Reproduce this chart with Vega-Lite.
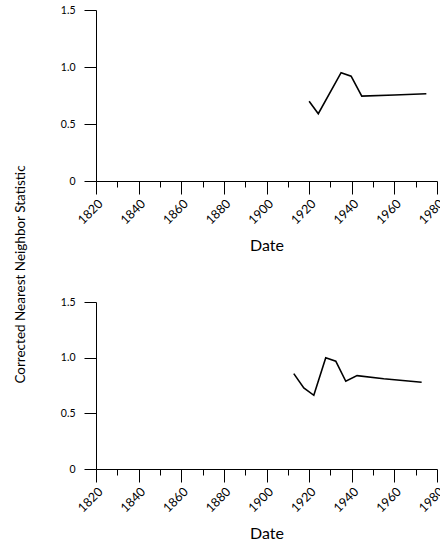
{
  "$schema": "https://vega.github.io/schema/vega-lite/v6.json",
  "background": "white",
  "padding": {"left": 13, "top": 5, "right": 3, "bottom": 0},
  "bounds": "flush",
  "spacing": 121,
  "config": {
    "view": {"stroke": null},
    "font": "Lato",
    "axis": {
      "grid": false,
      "domainColor": "black",
      "tickColor": "black",
      "labelColor": "black",
      "titleColor": "black",
      "domainWidth": 1,
      "tickWidth": 1,
      "titleFontWeight": "normal"
    }
  },
  "datasets": {
    "top": [
      {"year": 1920, "value": 0.70},
      {"year": 1924.3, "value": 0.59},
      {"year": 1935, "value": 0.95},
      {"year": 1939.7, "value": 0.92},
      {"year": 1944.7, "value": 0.745},
      {"year": 1960, "value": 0.755},
      {"year": 1975, "value": 0.765}
    ],
    "bottom": [
      {"year": 1912.8, "value": 0.857},
      {"year": 1917.5, "value": 0.728},
      {"year": 1922.2, "value": 0.662},
      {"year": 1927.8, "value": 1.0},
      {"year": 1932.5, "value": 0.968},
      {"year": 1937.2, "value": 0.788},
      {"year": 1942.5, "value": 0.839},
      {"year": 1955, "value": 0.81},
      {"year": 1972.8, "value": 0.779}
    ]
  },
  "vconcat": [
    {
      "width": 341,
      "height": 171,
      "data": {"name": "top"},
      "mark": {"type": "line", "color": "black", "strokeWidth": 1.6},
      "encoding": {
        "x": {
          "field": "year", "type": "quantitative",
          "scale": {"domain": [1820, 1980], "nice": false, "zero": false},
          "axis": {
            "title": "Date",
            "titleFontSize": 16,
            "values": [1820, 1830, 1840, 1850, 1860, 1870, 1880, 1890, 1900, 1910, 1920, 1930, 1940, 1950, 1960, 1970, 1980],
            "format": "d",
            "labelExpr": "datum.value % 20 == 0 ? datum.label : ''",
            "tickSize": {"condition": {"test": "datum.value % 20 == 0", "value": 13}, "value": 6},
            "labelFontSize": 12.5,
            "labelAngle": -45,
            "labelAlign": "right",
            "labelBaseline": "top",
            "labelPadding": 3,
            "titlePadding": 11
          }
        },
        "y": {
          "field": "value", "type": "quantitative",
          "scale": {"domain": [0, 1.5], "nice": false},
          "axis": {
            "title": "Corrected Nearest Neighbor Statistic",
            "titleFontSize": 13.5,
            "values": [0, 0.5, 1, 1.5],
            "labelExpr": "datum.value == 0 ? '0' : format(datum.value, '.1f')",
            "labelFontSize": 10.5,
            "tickSize": 12,
            "labelPadding": 9,
            "titleX": -69,
            "titleY": 264,
            "titleAnchor": "middle"
          }
        }
      }
    },
    {
      "width": 341,
      "height": 167,
      "data": {"name": "bottom"},
      "mark": {"type": "line", "color": "black", "strokeWidth": 1.6},
      "encoding": {
        "x": {
          "field": "year", "type": "quantitative",
          "scale": {"domain": [1820, 1980], "nice": false, "zero": false},
          "axis": {
            "title": "Date",
            "titleFontSize": 16,
            "values": [1820, 1830, 1840, 1850, 1860, 1870, 1880, 1890, 1900, 1910, 1920, 1930, 1940, 1950, 1960, 1970, 1980],
            "format": "d",
            "labelExpr": "datum.value % 20 == 0 ? datum.label : ''",
            "tickSize": {"condition": {"test": "datum.value % 20 == 0", "value": 13}, "value": 6},
            "labelFontSize": 12.5,
            "labelAngle": -45,
            "labelAlign": "right",
            "labelBaseline": "top",
            "labelPadding": 3,
            "titlePadding": 11
          }
        },
        "y": {
          "field": "value", "type": "quantitative",
          "scale": {"domain": [0, 1.5], "nice": false},
          "axis": {
            "title": null,
            "values": [0, 0.5, 1, 1.5],
            "labelExpr": "datum.value == 0 ? '0' : format(datum.value, '.1f')",
            "labelFontSize": 10.5,
            "tickSize": 12,
            "labelPadding": 9
          }
        }
      }
    }
  ]
}
